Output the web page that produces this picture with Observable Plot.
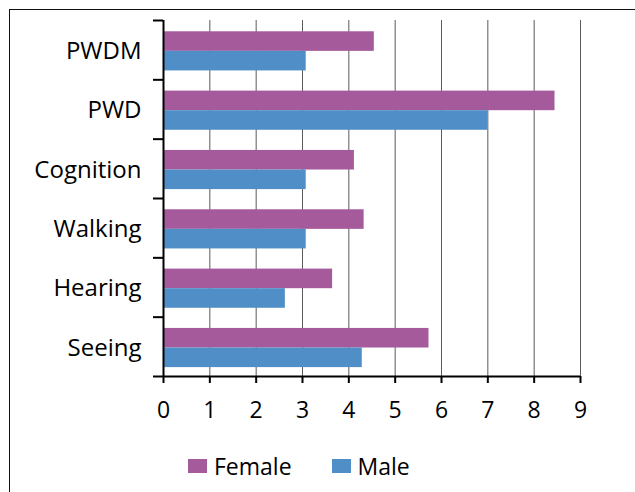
<!DOCTYPE html>
<html><head><meta charset="utf-8">
<script src="https://cdn.jsdelivr.net/npm/d3@7"></script>
<script src="https://cdn.jsdelivr.net/npm/@observablehq/plot@0.6"></script>
<style>
html,body{margin:0;padding:0;overflow:hidden;background:#fff;width:635px;height:492px;}
#frame{position:absolute;left:9px;top:9px;width:1000px;height:1000px;border-left:1px solid #111;border-top:1px solid #111;}
#chart{position:absolute;left:0;top:0;}
#legend{position:absolute;left:188px;top:452px;height:28px;display:flex;align-items:center;font-family:'Open Sans',sans-serif;font-size:23px;color:#000;}
#legend .item{display:flex;align-items:center;}
#legend .sw{width:19px;height:14px;margin-right:7px;}
#legend .item + .item{margin-left:40px;}
</style></head><body>
<div id="frame"></div>
<div id="chart"></div>
<div id="legend"></div>
<script>
const categories = ["PWDM", "PWD", "Cognition", "Walking", "Hearing", "Seeing"];
const female = [4.55, 8.45, 4.12, 4.33, 3.65, 5.73];
const male = [3.08, 7.0, 3.08, 3.08, 2.63, 4.29];
const series = ["Female", "Male"];
const colors = ["#a55a9b", "#4f8ec6"];
const xTicks = [0, 1, 2, 3, 4, 5, 6, 7, 8, 9];

const rows = [];
categories.forEach((c, i) => {
  rows.push({category: c, index: i, sex: "Female", slot: 0, value: female[i]});
  rows.push({category: c, index: i, sex: "Male", slot: 1, value: male[i]});
});
const BAR = 0.33, PAD = 0.19;

const chart = Plot.plot({
  width: 635,
  height: 452,
  marginLeft: 163,
  marginRight: 55,
  marginTop: 20,
  marginBottom: 76,
  style: {fontFamily: "'Open Sans', sans-serif", fontSize: "23px", color: "#000", background: "transparent"},
  x: {domain: [0, 9]},
  y: {domain: [categories.length, 0]},
  color: {domain: series, range: colors},
  marks: [
    Plot.gridX(xTicks.filter(t => t > 0), {stroke: "#5a5a5a", strokeOpacity: 1, strokeWidth: 1}),
    Plot.rect(rows, {
      x1: 0,
      x2: "value",
      y1: d => d.index + PAD + d.slot * BAR,
      y2: d => d.index + PAD + (d.slot + 1) * BAR,
      fill: "sex"
    }),
    Plot.ruleX([0], {stroke: "#000", strokeWidth: 2}),
    Plot.ruleY([categories.length], {stroke: "#000", strokeWidth: 2}),
    Plot.axisX(xTicks, {tickSize: 7, tickPadding: 18, stroke: "#000", strokeWidth: 2, label: null, fontSize: 23, fill: "#000"}),
    Plot.axisY(d3.range(categories.length + 1), {tickSize: 10, tickFormat: () => "", stroke: "#000", strokeWidth: 2, label: null}),
    Plot.axisY(categories.map((c, i) => i + 0.5), {tickSize: 0, tickPadding: 22, tickFormat: d => categories[Math.floor(d)], label: null, fontSize: 24, fill: "#000", dy: 1})
  ]
});
document.getElementById("chart").appendChild(chart);

const legend = document.getElementById("legend");
series.forEach((s, k) => {
  const item = document.createElement("div");
  item.className = "item";
  const sw = document.createElement("div");
  sw.className = "sw";
  sw.style.background = colors[k];
  const t = document.createElement("span");
  t.textContent = s;
  item.appendChild(sw);
  item.appendChild(t);
  legend.appendChild(item);
});
</script>
</body></html>
